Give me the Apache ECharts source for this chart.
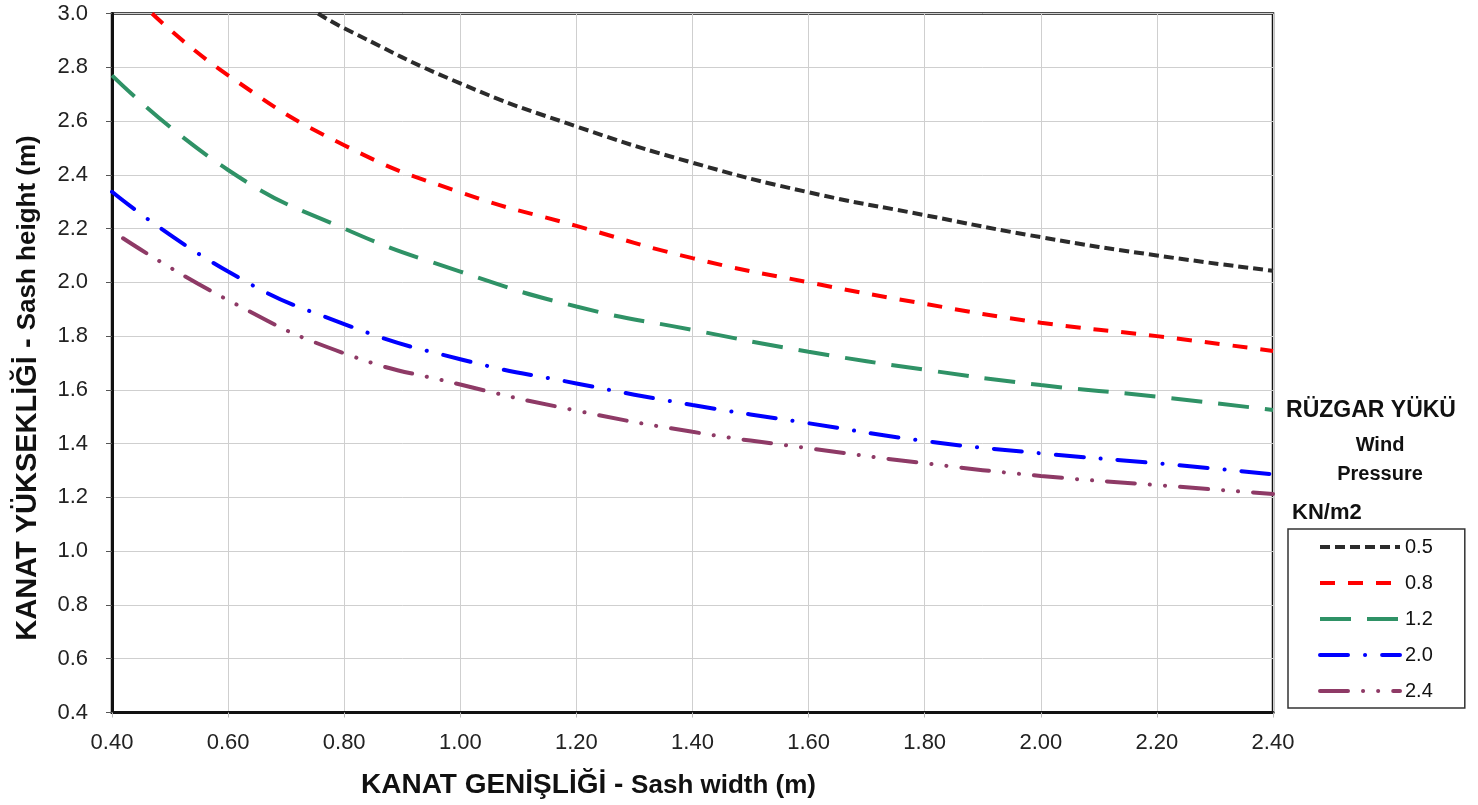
<!DOCTYPE html>
<html>
<head>
<meta charset="utf-8">
<script src="https://cdn.jsdelivr.net/npm/echarts@6/dist/echarts.min.js"></script>
<style>
html,body{margin:0;padding:0;background:#fff;}
#chart{width:1478px;height:805px;}
</style>
</head>
<body>
<div id="chart"></div>
<script>
// ---- data ----
const xTicks = ['0.40','0.60','0.80','1.00','1.20','1.40','1.60','1.80','2.00','2.20','2.40'];
const yTicks = ['0.4','0.6','0.8','1.0','1.2','1.4','1.6','1.8','2.0','2.2','2.4','2.6','2.8','3.0'];
const seriesNames = ['0.5','0.8','1.2','2.0','2.4'];

const width05 = [0.755, 0.80, 1.00, 1.20, 1.40, 1.60, 1.80, 2.00, 2.20, 2.40];
const height05 = [3.00, 2.945, 2.74, 2.58, 2.445, 2.335, 2.25, 2.168, 2.10, 2.043];

const width08 = [0.469, 0.60, 0.80, 1.00, 1.20, 1.40, 1.60, 1.80, 2.00, 2.20, 2.40];
const height08 = [3.00, 2.77, 2.51, 2.335, 2.21, 2.09, 2.00, 1.92, 1.85, 1.80, 1.745];

const width12 = [0.40, 0.60, 0.80, 1.00, 1.20, 1.40, 1.60, 1.80, 2.00, 2.20, 2.40];
const height12 = [2.77, 2.418, 2.20, 2.04, 1.91, 1.823, 1.742, 1.675, 1.618, 1.575, 1.525];

const width20 = [0.40, 0.60, 0.80, 1.00, 1.20, 1.40, 1.60, 1.80, 2.00, 2.20, 2.40];
const height20 = [2.337, 2.04, 1.845, 1.714, 1.624, 1.544, 1.476, 1.41, 1.364, 1.327, 1.286];

const width24 = [0.419, 0.60, 0.80, 1.00, 1.20, 1.40, 1.60, 1.80, 2.00, 2.20, 2.40];
const height24 = [2.164, 1.934, 1.736, 1.62, 1.523, 1.444, 1.383, 1.327, 1.28, 1.246, 1.213];

// ---- build ----
const pairs = (xs, ys) => xs.map((x, i) => [x, ys[i]]);
const allData = [
  pairs(width05, height05),
  pairs(width08, height08),
  pairs(width12, height12),
  pairs(width20, height20),
  pairs(width24, height24)
];
const colors = ['#2b2b2b', '#ff0000', '#2f9266', '#0000ff', '#8e3a66'];
const dashes = [
  [10, 5],
  [15, 13],
  [31, 16],
  [28, 17, 0.1, 17],
  [28, 15, 0.1, 15, 0.1, 15]
];
const caps = ['butt', 'butt', 'butt', 'round', 'round'];

const chart = echarts.init(document.getElementById('chart'), null, {renderer: 'canvas'});
const FONT = "'Liberation Sans', Arial, Helvetica, sans-serif";

const option = {
  animation: false,
  backgroundColor: '#ffffff',
  grid: {
    left: 112, right: 205, top: 13.5, bottom: 92.5,
    show: true, borderColor: '#111', borderWidth: 2.5, backgroundColor: 'transparent'
  },
  xAxis: {
    type: 'value', min: 0.4, max: 2.4, interval: 0.2,
    axisLine: {show: true, lineStyle: {color: '#111', width: 3}},
    axisTick: {show: true, length: 5, lineStyle: {color: '#bbb'}},
    axisLabel: {
      margin: 19, fontSize: 22, color: '#222', fontFamily: FONT,
      formatter: v => xTicks[Math.round((v - 0.4) / 0.2)]
    },
    splitLine: {show: true, lineStyle: {color: '#cfcfcf', width: 1}},
    name: '{a|KANAT GENİŞLİĞİ - }{b|Sash width (m)}',
    nameLocation: 'middle', nameGap: 59,
    nameTextStyle: {
      padding: [0, 208, 0, 0],
      rich: {
        a: {fontSize: 28, fontWeight: 'bold', color: '#111', fontFamily: FONT},
        b: {fontSize: 26, fontWeight: 'bold', color: '#111', fontFamily: FONT}
      }
    }
  },
  yAxis: {
    type: 'value', min: 0.4, max: 3.0, interval: 0.2,
    axisLine: {show: true, lineStyle: {color: '#111', width: 3}},
    axisTick: {show: true, length: 6, lineStyle: {color: '#555'}},
    axisLabel: {
      margin: 24, fontSize: 22, color: '#222', fontFamily: FONT,
      formatter: v => yTicks[Math.round((v - 0.4) / 0.2)]
    },
    splitLine: {show: true, lineStyle: {color: '#cfcfcf', width: 1}},
    name: '{a|KANAT YÜKSEKLİĞİ - }{b|Sash height (m)}',
    nameLocation: 'middle', nameGap: 70, nameRotate: 90,
    nameTextStyle: {
      padding: [0, 50, 0, 0],
      rich: {
        a: {fontSize: 29, fontWeight: 'bold', color: '#111', fontFamily: FONT},
        b: {fontSize: 26, fontWeight: 'bold', color: '#111', fontFamily: FONT}
      }
    }
  },
  legend: {
    orient: 'vertical',
    left: 1288, top: 529,
    padding: [8, 32, 7, 30],
    itemWidth: 80, itemHeight: 14, itemGap: 16,
    borderColor: '#333', borderWidth: 1.5,
    itemStyle: {opacity: 0},
    lineStyle: {width: 4},
    textStyle: {fontSize: 20, color: '#111', fontFamily: FONT},
    data: seriesNames
  },
  graphic: [
    {type: 'text', x: 1371, y: 411, style: {text: 'RÜZGAR YÜKÜ', align: 'center', verticalAlign: 'middle', fontSize: 23, fontWeight: 'bold', fill: '#111', fontFamily: FONT}},
    {type: 'text', x: 1380, y: 445, style: {text: 'Wind', align: 'center', verticalAlign: 'middle', fontSize: 20, fontWeight: 'bold', fill: '#111', fontFamily: FONT}},
    {type: 'text', x: 1380, y: 474, style: {text: 'Pressure', align: 'center', verticalAlign: 'middle', fontSize: 20, fontWeight: 'bold', fill: '#111', fontFamily: FONT}},
    {type: 'text', x: 1292, y: 513, style: {text: 'KN/m2', align: 'left', verticalAlign: 'middle', fontSize: 22, fontWeight: 'bold', fill: '#111', fontFamily: FONT}}
  ],
  series: seriesNames.map((name, i) => ({
    name: name,
    type: 'line',
    data: allData[i],
    smooth: 0.5,
    showSymbol: false,
    symbol: 'none',
    clip: true,
    lineStyle: {color: colors[i], width: 4, type: dashes[i], cap: caps[i]},
    itemStyle: {color: colors[i]}
  }))
};
chart.setOption(option);
</script>
</body>
</html>
